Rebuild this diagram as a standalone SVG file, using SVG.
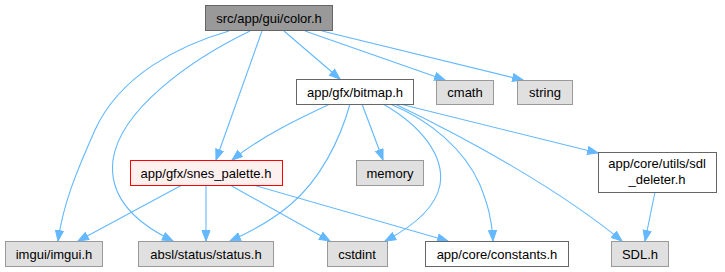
<svg xmlns="http://www.w3.org/2000/svg" width="725" height="272" viewBox="0 0 725 272">
  <defs>
    <marker id="arrow" markerUnits="userSpaceOnUse" markerWidth="12" markerHeight="10" refX="11" refY="4.5" orient="auto">
      <path d="M0.5,0.5 L11,4.5 L0.5,8.5 Z" fill="#63b8ff" stroke="#63b8ff"/>
    </marker>
  </defs>
  <style>
    rect { stroke-width: 1; }
    .main { fill: #999999; stroke: #666666; }
    .sys { fill: #e0e0e0; stroke: #999999; }
    .file { fill: #ffffff; stroke: #666666; }
    .err { fill: #fff0f0; stroke: #ff0000; }
    text { font-family: "Liberation Sans", Arial, sans-serif; font-size: 13px; fill: #000000; text-anchor: middle; }
    .edges path { fill: none; stroke: #63b8ff; stroke-width: 1.1; marker-end: url(#arrow); }
  </style>

  <g class="edges" id="edges">
    <!-- color.h -->
    <path d="M229,31 C180,45 120,75 95,130 C75,175 63,205 58,241"/>
    <path d="M250,31 C190,60 120,110 113,160 C108,200 140,225 173,241"/>
    <path d="M262,31 L216,160"/>
    <path d="M284,31 L340,79"/>
    <path d="M305,31 L445,80"/>
    <path d="M322,31 L523,80"/>
    <!-- bitmap.h -->
    <path d="M330,104 C300,118 262,136 232,160"/>
    <path d="M362,104 L383,160"/>
    <path d="M350,104 C340,140 320,180 290,205 C270,222 250,232 230,241"/>
    <path d="M383,104 C420,125 445,155 440,185 C435,210 410,228 385,241"/>
    <path d="M390,104 C430,120 465,150 480,185 C488,205 492,220 493,241"/>
    <path d="M395,104 C470,140 560,190 622,241"/>
    <path d="M400,104 L598,153"/>
    <!-- snes_palette.h -->
    <path d="M182,185 L78,241"/>
    <path d="M206,185 L206,241"/>
    <path d="M230,185 L330,241"/>
    <path d="M253,185 L448,241"/>
    <!-- sdl_deleter.h -->
    <path d="M655,192 L645,241"/>
  </g>

  <g id="node_color">
    <rect class="main" x="205.5" y="5.5" width="127" height="25"/>
    <text x="269" y="22.5">src/app/gui/color.h</text>
  </g>
  <g id="node_bitmap">
    <rect class="file" x="296.5" y="79.5" width="117" height="25"/>
    <text x="355" y="96.5">app/gfx/bitmap.h</text>
  </g>
  <g id="node_cmath">
    <rect class="sys" x="436.5" y="80.5" width="57" height="24"/>
    <text x="465" y="97">cmath</text>
  </g>
  <g id="node_string">
    <rect class="sys" x="517.5" y="80.5" width="55" height="24"/>
    <text x="545" y="97">string</text>
  </g>
  <g id="node_snes_palette">
    <rect class="err" x="130.5" y="160.5" width="152" height="25"/>
    <text x="206" y="177.5">app/gfx/snes_palette.h</text>
  </g>
  <g id="node_memory">
    <rect class="sys" x="356.5" y="160.5" width="67" height="25"/>
    <text x="390" y="177.5">memory</text>
  </g>
  <g id="node_sdl_deleter">
    <rect class="file" x="598.5" y="152.5" width="118" height="40"/>
    <text x="657" y="168">app/core/utils/sdl</text>
    <text x="657" y="184">_deleter.h</text>
  </g>
  <g id="node_imgui">
    <rect class="sys" x="5.5" y="241.5" width="97" height="25"/>
    <text x="54" y="258.5">imgui/imgui.h</text>
  </g>
  <g id="node_status">
    <rect class="sys" x="138.5" y="241.5" width="135" height="25"/>
    <text x="206" y="258.5">absl/status/status.h</text>
  </g>
  <g id="node_cstdint">
    <rect class="sys" x="327.5" y="241.5" width="60" height="25"/>
    <text x="357" y="258.5">cstdint</text>
  </g>
  <g id="node_constants">
    <rect class="file" x="425.5" y="241.5" width="143" height="25"/>
    <text x="497" y="258.5">app/core/constants.h</text>
  </g>
  <g id="node_sdl">
    <rect class="sys" x="611.5" y="241.5" width="57" height="25"/>
    <text x="640" y="258.5">SDL.h</text>
  </g>
</svg>
